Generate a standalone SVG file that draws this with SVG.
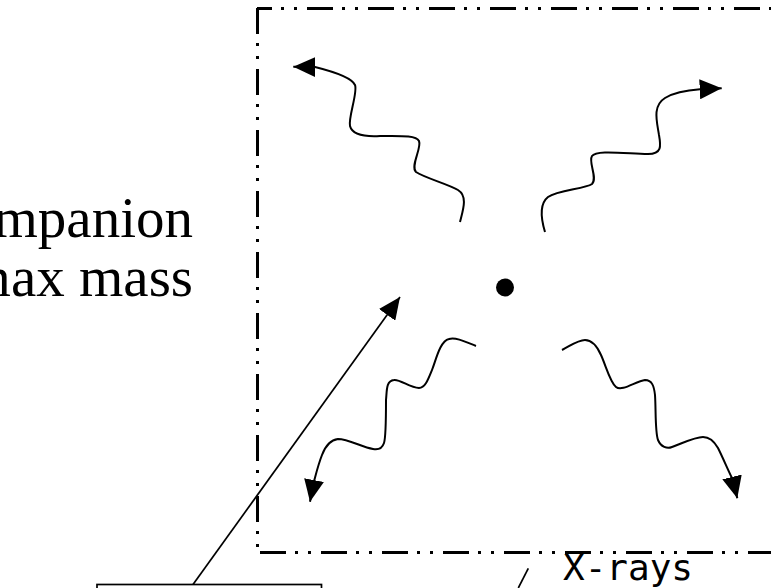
<svg xmlns="http://www.w3.org/2000/svg" width="771" height="588" viewBox="0 0 771 588">
<style>
.frame{fill:none;stroke:#000;stroke-width:3;stroke-dasharray:26 9 3 10 3 10}
.wave{fill:none;stroke:#000;stroke-width:2;stroke-linecap:butt}
.line{fill:none;stroke:#000;stroke-width:1.7}
.serif{font-family:"Liberation Serif","Times New Roman",serif;font-size:57px;fill:#000}
.mono{font-family:"DejaVu Sans Mono",monospace;font-size:36px;fill:#000}
</style>
<defs>
<marker id="ah" markerUnits="userSpaceOnUse" markerWidth="22" markerHeight="20" refX="22" refY="10" orient="auto" viewBox="0 0 22 20">
<path d="M0,0 L22,10 L0,20 z" fill="#000"/>
</marker>
</defs>
<rect width="771" height="588" fill="#fff"/>
<g id="frame">
<line class="frame" x1="257" y1="8.5" x2="771" y2="8.5" stroke-dashoffset="11"/>
<line class="frame" x1="257.5" y1="8" x2="257.5" y2="548"/>
<line class="frame" x1="260" y1="552.5" x2="771" y2="552.5"/>
</g>
<g id="labels">
<text class="serif" x="193" y="237" text-anchor="end">mpanion</text>
<text class="serif" x="193" y="296" text-anchor="end">max mass</text>
<text class="mono" x="563" y="580">X-rays</text>
</g>
<g id="source">
<circle cx="505" cy="287.5" r="9" fill="#000"/>
</g>
<g id="box">
<rect x="97" y="584.5" width="224.5" height="20" fill="none" stroke="#000" stroke-width="1.7"/>
</g>
<g id="connectors">
<path class="wave" marker-end="url(#ah)" d="M460,222 C463,210 468,196 458,190 C448,184 425,178 416,172 C410,166 422,148 419,141 C416,135 400,136 380,136 C362,137 352,134 350,126 C348,118 358,92 355,85 C352,78 335,72 315,67 L293.3,66.7"/>
<path class="wave" marker-end="url(#ah)" d="M545,232 C542,222 538,205 548,197 C558,190 585,189 592,184 C598,178 588,162 592,156 C596,150 620,153 648,154 C662,154 661,146 659,135 C657,122 652,106 665,98 C675,92 690,90 700,89.3 L721.7,88.3"/>
<path class="wave" marker-end="url(#ah)" d="M476,346 C466,342 456,337 449,339 C440,341 436,360 432,370 C428,380 425,388 419,388 C410,388 400,379 394,380 C386,381 387,390 386,400 C386,415 386,437 384,443 C382,449 378,450 373,449 C362,447 348,439 338,439 C330,440 325,447 322,455 C318,465 315,478 313.5,483 L310,501.7"/>
<path class="wave" marker-end="url(#ah)" d="M562,350 C570,346 578,340 585,340 C592,340 597,346 601,355 C606,366 610,382 616,387 C622,392 636,381 645,380 C652,380 654,386 655,395 C656,410 655,432 658,440 C661,447 667,449 672,447 C683,443 695,437 703,437 C710,437 714,441 718,448 C723,458 728,470 732.5,479 L737.3,498.3"/>
<line class="line" x1="193" y1="584.5" x2="400" y2="297" marker-end="url(#ah)"/>
<line class="line" x1="528.3" y1="568.3" x2="518.3" y2="588"/>
</g>
</svg>
